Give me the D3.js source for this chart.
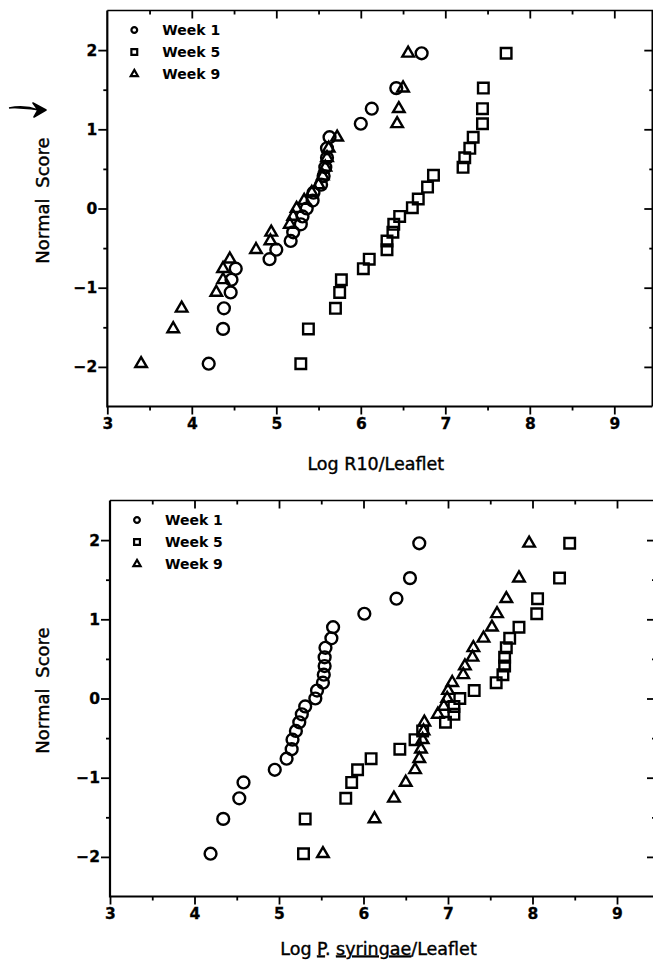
<!DOCTYPE html>
<html>
<head>
<meta charset="utf-8">
<style>
  body { margin: 0; background: #fff; }
  svg { display: block; font-family: "DejaVu Sans", sans-serif; }
  .tick text { font-family: "DejaVu Sans", sans-serif; font-weight: bold; font-size: 15.5px; fill: #000; stroke: #000; stroke-width: 0.3; }
  .tick line { stroke: #000; stroke-width: 1.8; }
  .axis-title { font-family: "DejaVu Sans", sans-serif; font-size: 17.5px; fill: #000; stroke: #000; stroke-width: 0.4; }
  .legend text { font-family: "DejaVu Sans", sans-serif; font-weight: bold; font-size: 14px; fill: #000; }
</style>
</head>
<body>
<div id="chart"></div>
<script src="https://d3js.org/d3.v7.min.js"></script>
<script>
var width = 653, height = 967;

// ---- data: x = log count, y = normal score ----
// top panel: R10
var r10Week1X = [4.20, 4.37, 4.38, 4.46, 4.47, 4.52, 4.92, 5.00, 5.17, 5.20, 5.29, 5.31, 5.36, 5.43, 5.44, 5.53, 5.56, 5.58, 5.60, 5.60, 5.63, 6.00, 6.13, 6.42, 6.72];
var r10Week1Y = [-1.96, -1.52, -1.26, -1.06, -0.90, -0.76, -0.64, -0.52, -0.41, -0.30, -0.20, -0.10, 0.00, 0.10, 0.20, 0.30, 0.41, 0.52, 0.64, 0.76, 0.90, 1.07, 1.26, 1.52, 1.96];

var r10Week5X = [5.29, 5.38, 5.70, 5.75, 5.77, 6.03, 6.10, 6.31, 6.31, 6.38, 6.39, 6.46, 6.61, 6.68, 6.79, 6.86, 7.21, 7.23, 7.29, 7.33, 7.44, 7.44, 7.45, 7.72];
var r10Week5Y = [-1.96, -1.52, -1.26, -1.06, -0.90, -0.76, -0.64, -0.52, -0.41, -0.30, -0.20, -0.10, 0.01, 0.12, 0.27, 0.42, 0.52, 0.64, 0.76, 0.90, 1.07, 1.26, 1.52, 1.96];

var r10Week9X = [3.40, 3.78, 3.88, 4.29, 4.37, 4.37, 4.45, 4.76, 4.93, 4.94, 5.16, 5.20, 5.24, 5.33, 5.42, 5.50, 5.55, 5.58, 5.60, 5.62, 5.72, 6.43, 6.45, 6.50, 6.56];
var r10Week9Y = [-1.96, -1.52, -1.26, -1.06, -0.90, -0.76, -0.64, -0.52, -0.41, -0.30, -0.20, -0.10, 0.00, 0.10, 0.20, 0.30, 0.41, 0.52, 0.64, 0.76, 0.90, 1.07, 1.26, 1.52, 1.96];

// bottom panel: P. syringae
var psWeek1X = [4.19, 4.34, 4.53, 4.58, 4.95, 5.09, 5.15, 5.16, 5.20, 5.24, 5.27, 5.31, 5.43, 5.45, 5.52, 5.53, 5.54, 5.54, 5.55, 5.62, 5.64, 6.01, 6.39, 6.55, 6.66];
var psWeek1Y = [-1.96, -1.52, -1.26, -1.06, -0.90, -0.76, -0.64, -0.52, -0.41, -0.30, -0.20, -0.10, 0.00, 0.10, 0.20, 0.30, 0.41, 0.52, 0.64, 0.76, 0.90, 1.07, 1.26, 1.52, 1.96];

var psWeek5X = [5.29, 5.31, 5.79, 5.86, 5.93, 6.09, 6.43, 6.61, 6.70, 6.97, 7.07, 7.07, 7.14, 7.31, 7.57, 7.65, 7.67, 7.67, 7.69, 7.73, 7.84, 8.05, 8.06, 8.32, 8.44];
var psWeek5Y = [-1.96, -1.52, -1.26, -1.06, -0.90, -0.76, -0.64, -0.52, -0.41, -0.30, -0.20, -0.10, 0.00, 0.10, 0.20, 0.30, 0.41, 0.52, 0.64, 0.76, 0.90, 1.07, 1.26, 1.52, 1.96];

var psWeek9X = [5.52, 6.13, 6.36, 6.50, 6.61, 6.66, 6.68, 6.70, 6.71, 6.72, 6.88, 6.95, 6.99, 7.00, 7.05, 7.18, 7.20, 7.29, 7.30, 7.42, 7.52, 7.58, 7.69, 7.84, 7.96];
var psWeek9Y = [-1.96, -1.52, -1.26, -1.06, -0.90, -0.76, -0.64, -0.52, -0.41, -0.30, -0.20, -0.10, 0.00, 0.10, 0.20, 0.30, 0.41, 0.52, 0.64, 0.76, 0.90, 1.07, 1.26, 1.52, 1.96];

var weekLabels = ["Week 1", "Week 5", "Week 9"];
var xTicks = [3, 4, 5, 6, 7, 8, 9];
var xMinor = [3.5, 4.5, 5.5, 6.5, 7.5, 8.5];
var yTicks = [-2, -1, 0, 1, 2];
var yMinor = [-1.5, -0.5, 0.5, 1.5];

var symbols = [d3.symbolCircle, d3.symbolSquare, d3.symbolTriangle];
var symbolSize = [110, 112, 58];
var legendSize = [26, 34, 22];

var svg = d3.select("#chart").append("svg")
    .attr("width", width)
    .attr("height", height);

var plotW = 545, plotH = 396;

var x = d3.scaleLinear().domain([3, 3 + plotW / 84.5]).range([0, plotW]);
var y = d3.scaleLinear().domain([-2.5, 2.5]).range([plotH, 0]);

function zip(xs, ys) {
  return xs.map(function(v, i) { return [v, ys[i]]; });
}

function drawPanel(left, top, series, titleFn, titleGap) {
  var g = svg.append("g").attr("transform", "translate(" + left + "," + top + ")");

  // ticks: labelled outward on left/bottom, inward on top/right
  g.append("g").attr("transform", "translate(0," + plotH + ")")
    .call(d3.axisBottom(x).tickValues(xTicks).tickSize(8).tickPadding(3).tickSizeOuter(0)
      .tickFormat(d3.format("d")));
  g.append("g").attr("transform", "translate(0," + plotH + ")")
    .call(d3.axisBottom(x).tickValues(xMinor).tickSize(4).tickFormat("").tickSizeOuter(0));
  g.append("g")
    .call(d3.axisLeft(y).tickValues(yTicks).tickSize(9).tickPadding(1).tickSizeOuter(0)
      .tickFormat(function(d) { return d < 0 ? "\u2212" + Math.abs(d) : d; }));
  g.append("g")
    .call(d3.axisLeft(y).tickValues(yMinor).tickSize(4).tickFormat("").tickSizeOuter(0));
  g.append("g")
    .call(d3.axisTop(x).tickValues(xTicks.slice(1)).tickSize(-8).tickFormat("").tickSizeOuter(0));
  g.append("g")
    .call(d3.axisTop(x).tickValues(xMinor).tickSize(-4).tickFormat("").tickSizeOuter(0));
  g.append("g").attr("transform", "translate(" + plotW + ",0)")
    .call(d3.axisRight(y).tickValues(yTicks).tickSize(-8).tickFormat("").tickSizeOuter(0));
  g.append("g").attr("transform", "translate(" + plotW + ",0)")
    .call(d3.axisRight(y).tickValues(yMinor).tickSize(-3).tickFormat("").tickSizeOuter(0));
  g.selectAll(".domain").remove();

  // frame
  g.append("path")
    .attr("d", "M0,0H" + plotW + "V" + plotH)
    .attr("fill", "none").attr("stroke", "#000").attr("stroke-width", 1.6);
  g.append("path")
    .attr("d", "M0,0V" + plotH + "H" + plotW)
    .attr("fill", "none").attr("stroke", "#000").attr("stroke-width", 2.2);

  // points
  series.forEach(function(s, k) {
    g.append("g").selectAll("path")
      .data(s)
      .enter().append("path")
      .attr("d", d3.symbol().type(symbols[k]).size(symbolSize[k]))
      .attr("transform", function(d) { return "translate(" + x(d[0]) + "," + y(d[1]) + ")"; })
      .attr("fill", "none")
      .attr("stroke", "#000")
      .attr("stroke-width", 2.4);
  });

  // legend
  var legend = g.append("g").attr("class", "legend").attr("transform", "translate(27,19.5)");
  weekLabels.forEach(function(lab, k) {
    var row = legend.append("g").attr("transform", "translate(0," + (k * 22) + ")");
    row.append("path")
      .attr("d", d3.symbol().type(symbols[k]).size(legendSize[k]))
      .attr("fill", "none").attr("stroke", "#000").attr("stroke-width", 2.2);
    row.append("text").attr("x", 28).attr("dy", "0.36em").text(lab);
  });

  // axis titles
  g.append("text")
    .attr("class", "axis-title")
    .attr("transform", "translate(" + (43 - left) + "," + (plotH / 2 - 8) + ") rotate(-90)")
    .attr("text-anchor", "middle")
    .attr("dy", "0.35em")
    .style("font-size", "18px")
    .style("word-spacing", "5px")
    .text("Normal Score");

  var xt = g.append("text")
    .attr("class", "axis-title")
    .attr("x", plotW / 2 - 4)
    .attr("y", plotH + titleGap)
    .attr("text-anchor", "middle");
  titleFn(xt);

  return g;
}

var top1 = drawPanel(107.3, 10.5,
  [zip(r10Week1X, r10Week1Y), zip(r10Week5X, r10Week5Y), zip(r10Week9X, r10Week9Y)],
  function(t) { t.text("Log R10/Leaflet"); }, 63);

var bottom1 = drawPanel(110, 500.5,
  [zip(psWeek1X, psWeek1Y), zip(psWeek5X, psWeek5Y), zip(psWeek9X, psWeek9Y)],
  function(t) {
    t.append("tspan").text("Log ");
    t.append("tspan").style("text-decoration", "underline").text("P");
    t.append("tspan").text(". ");
    t.append("tspan").style("text-decoration", "underline").text("syringae");
    t.append("tspan").text("/Leaflet");
  }, 58);

// small pen mark left of the top panel's axis title
svg.append("path")
  .attr("d", "M9,108 C20,106 30,107 38,110 L33,103 L46,110 L34,117 L38,110")
  .attr("fill", "#000")
  .attr("stroke", "#000")
  .attr("stroke-width", 1.6)
  .attr("stroke-linejoin", "round");
</script>
</body>
</html>
